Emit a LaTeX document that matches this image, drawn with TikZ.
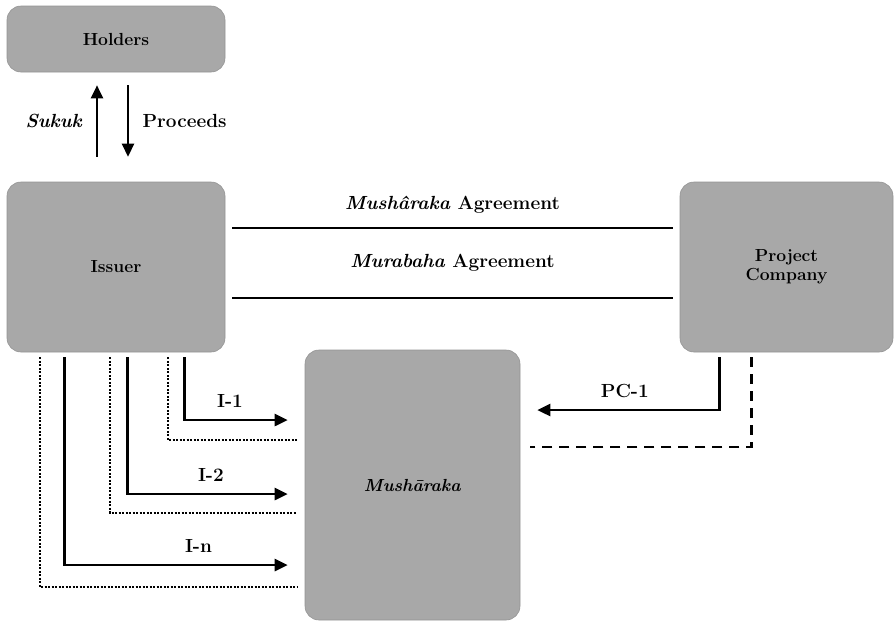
\documentclass[tikz,border=0pt]{standalone}
\usetikzlibrary{arrows.meta}
\begin{document}
\begin{tikzpicture}[x=1pt,y=-1pt,
  party/.style={rounded corners=14pt, fill=black!34, draw=black!42, line width=0.6pt,
    inner sep=0pt, align=center, font=\fontsize{17.5}{19}\selectfont\bfseries},
  lbl/.style={font=\fontsize{19}{22}\selectfont\bfseries},
  flow/.style={line width=2.6pt, -{Triangle[length=13pt,width=12pt]}},
  plain/.style={line width=2.6pt},
  tie/.style={line width=2.3pt, dash pattern=on 2pt off 1.5pt},
  dashline/.style={line width=2.8pt, dash pattern=on 10pt off 7pt}]
\useasboundingbox (0,0) rectangle (895,622);

% parties
\node[party, minimum width=218pt, minimum height=66pt] (holders) at (116,39) {Holders};
\node[party, minimum width=218pt, minimum height=170pt] (issuer) at (116,267) {Issuer};
\node[party, minimum width=213pt, minimum height=170pt] (project) at (786.5,267) {Project\\Company};
\node[party, minimum width=215pt, minimum height=270pt] (mush) at (412.5,485) {\textit{Mush\=araka}};

% sukuk and proceeds between holders and issuer
\draw[flow] ([xshift=-19pt,yshift=25pt]issuer.north) -- ([xshift=-19pt,yshift=-13pt]holders.south)
  node[lbl, midway, left=10pt] (sukuk) {\textit{Sukuk}};
\draw[flow] ([xshift=12pt,yshift=-13pt]holders.south) -- ([xshift=12pt,yshift=25pt]issuer.north)
  node[lbl, midway, right=10pt] (proceeds) {Proceeds};

% agreements between issuer and project company
\draw[plain] ([xshift=7pt,yshift=39pt]issuer.east) -- ([xshift=-7pt,yshift=39pt]project.west)
  node[lbl, midway, above=10pt] (magr) {\textit{Mush\^araka} Agreement};
\draw[plain] ([xshift=7pt,yshift=-31pt]issuer.east) -- ([xshift=-7pt,yshift=-31pt]project.west)
  node[lbl, midway, above=22pt] (ragr) {\textit{Murabaha} Agreement};

% issuer contributions into the musharaka
\draw[flow] ([xshift=178pt,yshift=-5pt]issuer.south west) |- ([xshift=-17pt,yshift=65pt]mush.west)
  node[lbl, pos=0.72, above=8pt] (i1) {I-1};
\draw[tie] ([xshift=161pt,yshift=-5pt]issuer.south west) |- ([xshift=-8pt,yshift=45pt]mush.west);
\draw[flow] ([xshift=121pt,yshift=-5pt]issuer.south west) |- ([xshift=-17pt,yshift=-9pt]mush.west)
  node[lbl, pos=0.76, above=8pt] (i2) {I-2};
\draw[tie] ([xshift=103pt,yshift=-5pt]issuer.south west) |- ([xshift=-8pt,yshift=-28pt]mush.west);
\draw[flow] ([xshift=58pt,yshift=-5pt]issuer.south west) |- ([xshift=-17pt,yshift=-80pt]mush.west)
  node[lbl, pos=0.80, above=8pt] (in) {I-n};
\draw[tie] ([xshift=33pt,yshift=-5pt]issuer.south west) |- ([xshift=-8pt,yshift=-102pt]mush.west);

% project company contribution
\draw[flow] ([xshift=40pt,yshift=-5pt]project.south west) |- ([xshift=17pt,yshift=75pt]mush.east)
  node[lbl, pos=0.76, above=8pt] (pc1) {PC-1};
\draw[dashline] ([xshift=72pt,yshift=-5pt]project.south west) |- ([xshift=10pt,yshift=38pt]mush.east);
\end{tikzpicture}
\end{document}
